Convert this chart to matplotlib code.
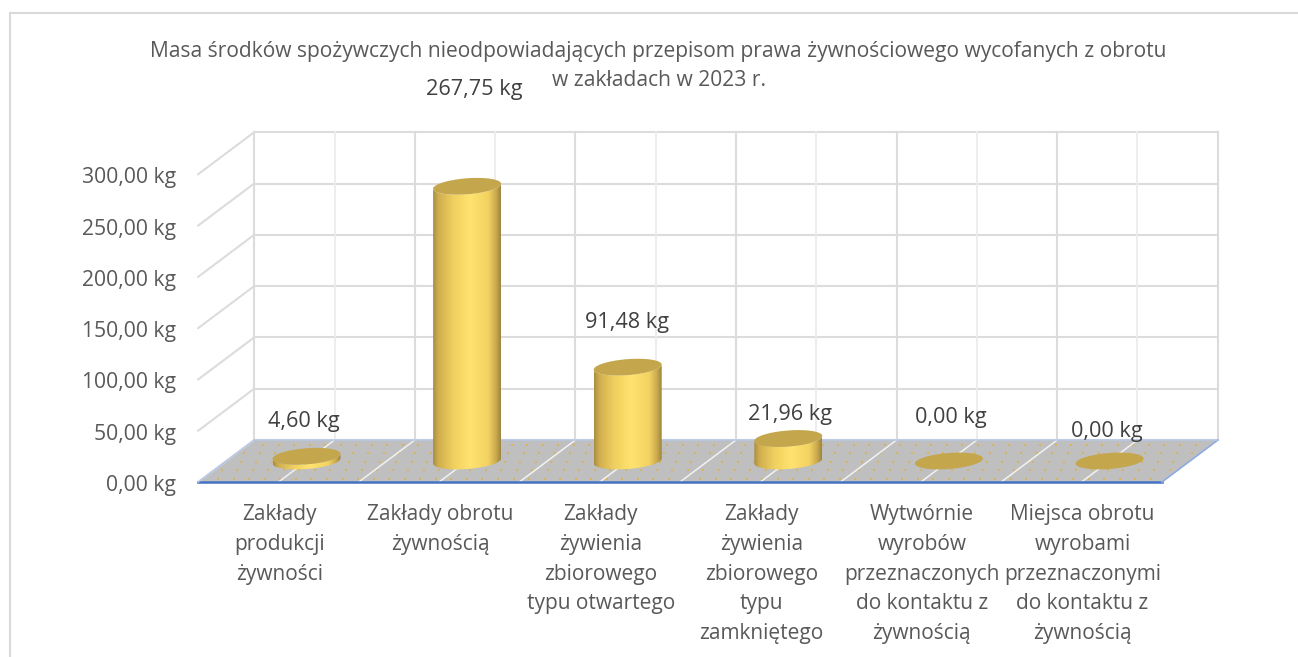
import numpy as np
import matplotlib
matplotlib.use("Agg")
import matplotlib.pyplot as plt
from matplotlib.patches import Polygon

plt.rcParams['font.family'] = ['Open Sans', 'DejaVu Sans']

# datos
kategorie = ["Zakłady\nprodukcji\nżywności", "Zakłady obrotu\nżywnością",
             "Zakłady\nżywienia\nzbiorowego\ntypu otwartego",
             "Zakłady\nżywienia\nzbiorowego\ntypu\nzamkniętego",
             "Wytwórnie\nwyrobów\nprzeznaczonych\ndo kontaktu z\nżywnością",
             "Miejsca obrotu\nwyrobami\nprzeznaczonymi\ndo kontaktu z\nżywnością"]
masa = [4.60, 267.75, 91.48, 21.96, 0.00, 0.00]
etykiety = ["4,60 kg", "267,75 kg", "91,48 kg", "21,96 kg", "0,00 kg", "0,00 kg"]
ticks = [0, 50, 100, 150, 200, 250, 300]
tick_labels = ["0,00 kg", "50,00 kg", "100,00 kg", "150,00 kg", "200,00 kg", "250,00 kg", "300,00 kg"]
titulo1 = "Masa środków spożywczych nieodpowiadających przepisom prawa żywnościowego wycofanych z obrotu"
titulo2 = "w zakładach w 2023 r."

W, H = 1298, 657
# escala: px por categoria y px por kg
CAT = 160.6
KG = 1.026
X0, Y0 = 306.5, 461   # pixel de la categoria 0 y kg=0 (plano medio)
# ajustes de las etiquetas, en pixeles
off_valor = [(-3, 35), (7, 97), (-1, 45), (2, 24), (2, 44), (-3, 30)]
off_cat = -27

fig = plt.figure(figsize=(W / 100, H / 100), dpi=100)
ax = fig.add_axes([0, 0, 1, 1])
xlim = (-X0 / CAT, (W - X0) / CAT)
ylim = ((Y0 - H) / KG, Y0 / KG)


def dx(p):
    return p / CAT


def dy(p):
    return p / KG


# profundidad: -1 frente, +1 fondo
def prof(x, y, d):
    if d < 0:
        return x - dx(28), y - dy(21)
    return x + dx(28), y + dy(21)


ax.set_xlim(*xlim)
ax.set_ylim(*ylim)
ax.axis('off')

# marco
fig.add_artist(plt.Rectangle((10 / W, -0.01), 1.2, 1 - 13 / H + 0.01, fill=False,
                             edgecolor='#d9d9d9', lw=1.5, transform=fig.transFigure))

x_ini, x_fin = -0.5, 5.5
GRIS = '#dcdcdc'
# rejilla de fondo
for t in ticks:
    xa, ya = prof(x_ini, t, 1)
    xb, yb = prof(x_fin, t, 1)
    ax.plot([xa, xb], [ya, yb], color=GRIS, lw=1.5, zorder=1)
    xc, yc = prof(x_ini, t, -1)
    ax.plot([xc, xa], [yc, ya], color=GRIS, lw=1.5, zorder=1)
for k in np.arange(x_ini, x_fin + 0.1, 0.5):
    xa, ya = prof(k, 0, 1)
    xb, yb = prof(k, ticks[-1], 1)
    entero = abs(k * 2 % 2 - 1) < 0.01
    ax.plot([xa, xb], [ya, yb], color=GRIS if entero else '#ececec', lw=1.5 if entero else 1.3, zorder=1)

# suelo
pa = prof(x_ini, 0, -1)
pb = prof(x_fin, 0, -1)
pc = prof(x_fin, 0, 1)
pd = prof(x_ini, 0, 1)
suelo = Polygon([pa, pb, pc, pd], closed=True, facecolor='#bfbfbf', edgecolor='none', zorder=2)
ax.add_patch(suelo)

# puntos del suelo
px, py = [], []
for n, f in enumerate(np.arange(0.08, 1, 1 / 5)):
    for g in np.arange(0, 1, 1 / 62):
        gg = g + (n % 2) / 124
        xs = pa[0] + (pb[0] - pa[0]) * gg + (pd[0] - pa[0]) * f
        ys = pa[1] + (pd[1] - pa[1]) * f
        px.append(xs)
        py.append(ys)
puntos = ax.scatter(px, py, s=2.6, marker='s', color='#d4b45e', linewidths=0, zorder=2.1)
puntos.set_clip_path(suelo)

# lineas blancas del suelo
for k in np.arange(x_ini, x_fin + 0.1, 0.5):
    a = prof(k, 0, -1)
    b = prof(k, 0, 1)
    ax.plot([a[0], b[0]], [a[1], b[1]], color='#f2f2f2', lw=1.1, zorder=2.2)

# bordes azules
ax.plot([pa[0], pb[0]], [pa[1], pb[1]], color='#4472c4', lw=1.8, zorder=2.3)
ax.plot([pb[0], pc[0]], [pb[1], pc[1]], color='#8faadc', lw=1.3, zorder=2.3)
ax.plot([pd[0], pc[0]], [pd[1], pc[1]], color='#b4c7e7', lw=1.1, zorder=2.3)
ax.plot([pa[0], pd[0]], [pa[1], pd[1]], color='#b4c7e7', lw=1.1, zorder=2.3)

# gradiente de los cilindros
cmap = matplotlib.colors.LinearSegmentedColormap.from_list(
    'oro', [(0, '#a98d42'), (0.08, '#d0ae50'), (0.3, '#f0d05f'), (0.55, '#ffe36f'),
            (0.82, '#f2d160'), (0.93, '#c9a94d'), (1, '#9c8540')])
grad = np.linspace(0, 1, 256).reshape(1, -1)
RA = dx(34)
RB = dy(8)
SH = dy(2.5)
t_inf = np.linspace(np.pi, 2 * np.pi, 60)


def borde(c, v, t):
    return c + RA * np.cos(t), v + RB * np.sin(t) + SH * np.cos(t)


for i, v in enumerate(masa):
    if v > 0:
        xb1, yb1 = borde(i, 0, t_inf)
        xt1, yt1 = borde(i, v, t_inf[::-1])
        cuerpo = Polygon(np.column_stack([np.r_[xb1, xt1], np.r_[yb1, yt1]]), closed=True,
                         facecolor='none', edgecolor='none', zorder=3)
        ax.add_patch(cuerpo)
        im = ax.imshow(grad, cmap=cmap, aspect='auto', zorder=3,
                       extent=[i - RA, i + RA, -dy(20), v + dy(20)])
        im.set_clip_path(cuerpo)
    t_all = np.linspace(0, 2 * np.pi, 120)
    xe, ye = borde(i, v, t_all)
    ax.add_patch(Polygon(np.column_stack([xe, ye]), closed=True, facecolor='#c4a64c',
                         edgecolor='none', zorder=3.2))

ax.set_xlim(*xlim)
ax.set_ylim(*ylim)

# etiquetas de valor
for i, et in enumerate(etykiety):
    ax.text(i + dx(off_valor[i][0]), masa[i] + dy(off_valor[i][1]), et, ha='center', va='center',
            fontsize=15.6, color='#404040', zorder=5)

# eje y
for t, et in zip(ticks, tick_labels):
    xc, yc = prof(x_ini, t, -1)
    ax.text(xc - dx(22), yc - dy(3.5), et, ha='right', va='center', fontsize=15.2, color='#595959', zorder=5)

# categorias
for i, et in enumerate(kategorie):
    ax.text(i + dx(off_cat), -dy(43), et, ha='center', va='top', fontsize=15, color='#595959',
            linespacing=1.55, zorder=5)

# titulo
fig.text(658.5 / W, 1 - 51 / H, titulo1, ha='center', va='center', fontsize=15.15, color='#595959')
fig.text(659 / W, 1 - 80 / H, titulo2, ha='center', va='center', fontsize=15.15, color='#595959')

fig.savefig('out.png', dpi=100)
